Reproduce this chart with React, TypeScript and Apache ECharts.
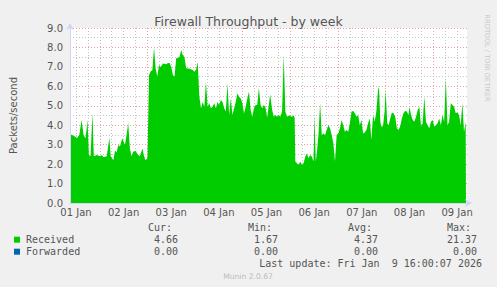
import React, { useEffect, useRef } from "react";
import * as echarts from "echarts";

// hours since 01 Jan 00:00
const hours = [
  9.0, 11.67, 12.5, 13.67, 14.83, 15.83, 16.83, 17.83, 18.5, 19.33, 20.33, 21, 22.5, 24.17, 25, 25.83, 27.5, 28.83, 29.5,
  30.83, 31.67, 32.5, 33.33, 34.17, 35.33, 36.67, 37.5, 38.33, 39.17, 40, 40.83, 42, 43.33, 44.17, 45.5, 46.17, 47, 48,
  48.83, 49.5, 50.5, 51.33, 52.17, 53, 53.83, 54.67, 55.83, 57.5, 58.33, 59.17, 60, 60.83, 61.67, 62.5, 64.17, 65, 65.83,
  66.67, 67.5, 69.17, 70.83, 71.67, 72.5, 73.33, 74.17, 75, 75.83, 76.67, 77.5, 78.33, 79.17, 80, 80.83, 81.67, 82.5,
  83.33, 84.17, 85, 85.83, 86.67, 87.5, 88.33, 89.17, 90, 90.83, 91.67, 92.5, 93.33, 94.17, 95, 95.83, 96.67, 97.5, 98.33,
  99.17, 100, 100.83, 101.67, 102.5, 103.33, 104.17, 105, 105.83, 106.67, 107.5, 108.33, 109.17, 109.83, 110.83, 111.67,
  112.5, 113.33, 114.17, 115, 115.83, 116.67, 117.5, 118.33, 119.17, 120.83, 121.67, 122.17, 122.5, 123.33, 124.17, 125,
  125.83, 126.67, 127.5, 128.33, 129.17, 130, 130.83, 131.67, 132.17, 132.83, 133.33, 134.17, 135, 135.83, 136.67, 137.5,
  138.33, 139.17, 140, 140.83, 141.67, 142.5, 143.33, 144.17, 145, 145.83, 146.67, 147.5, 148.33, 149.17, 150, 150.83,
  151.67, 152.5, 153.33, 154.17, 155, 155.83, 156.67, 157.5, 158.33, 159.17, 160, 160.83, 161.67, 162.5, 163.33, 164.17,
  164.67, 165.33, 165.83, 166.67, 167.5, 168, 168.83, 169.5, 170.33, 171.17, 172, 172.83, 173.67, 174.5, 175.33, 176.17,
  177, 177.83, 178.67, 179.5, 180, 180.83, 181.67, 182.5, 183.33, 184.17, 185, 185.83, 186.67, 187.5, 188.33, 189.17, 190,
  190.83, 191.67, 192.5, 193.33, 194.17, 195, 195.83, 196.67, 197.5, 198.33, 199.17, 200, 200.83, 201.67, 202.5, 203.33,
  204.17, 205, 205.83, 206.67, 207.5, 208.33, 208.5,
];

const received = [
  3.55, 3.41, 3.33, 3.5, 4.27, 3.5, 3.33, 4.27, 2.47, 2.4, 4.6, 2.4, 2.47, 2.4, 2.47, 2.35, 2.4, 3.36, 2.4,
  2.2, 2.7, 2.6, 2.98, 2.9, 3.33, 2.98, 3.5, 4.1, 2.8, 2.4, 2.64, 2.67, 2.47, 2.4, 2.8, 2.47, 2.2, 2.3,
  6.58, 6.75, 6.84, 8.0, 6.9, 6.5, 7.1, 7.0, 7.18, 7.13, 7.2, 7.2, 7.0, 6.58, 6.5, 7.44, 7.5, 7.87, 7.6,
  7.5, 6.93, 6.9, 6.84, 6.75, 6.84, 7.27, 5.47, 4.87, 5.2, 4.95, 6.24, 4.95, 5.13, 4.87, 4.95, 5.13, 4.87,
  5.2, 5.04, 5.3, 5.2, 4.87, 4.7, 6.15, 4.53, 5.38, 4.53, 4.87, 5.2, 5.64, 5.47, 5.38, 5.13, 4.6, 4.95, 5.38,
  5.73, 4.78, 4.44, 4.87, 5.04, 5.04, 5.93, 5.04, 4.87, 5.04, 4.9, 4.4, 5.04, 5.59, 4.78, 4.44,
  4.53, 4.44, 4.53, 4.44, 4.7, 7.6, 4.7, 4.44, 4.5, 4.44, 4.5, 4.4, 2.13, 2.04, 1.95, 2.13,
  1.95, 2.04, 2.38, 2.55, 2.3, 2.47, 2.38, 2.13, 4.53, 2.13, 2.55, 3.5, 5.13, 3.5, 3.58, 3.5,
  3.75, 4.0, 3.84, 3.5, 3.07, 2.13, 3.5, 3.58, 3.84, 4.27, 4.0, 3.67, 3.75, 3.67, 4.1, 4.7,
  4.73, 4.61, 4.44, 4.53, 4.0, 4.27, 3.58, 3.62, 3.75, 4.1, 4.35, 3.24, 4.53, 4.18, 4.7, 5.81,
  5.98, 4.18, 3.93, 3.93, 4.7, 5.81, 4.1, 4.0, 4.35, 4.66, 4.61, 4.44, 3.84, 3.75, 3.93, 4.35,
  4.61, 4.73, 4.7, 4.53, 4.95, 4.53, 4.27, 4.18, 4.44, 4.78, 4.95, 3.93, 4.1, 5.47, 4.18, 4.0, 3.84,
  4.18, 4.27, 3.93, 4.0, 4.1, 4.35, 4.0, 4.53, 4.18, 6.41, 4.0, 4.18, 5.13, 5.04, 4.95, 4.61,
  4.66, 4.53, 4.0, 5.13, 3.67, 4.18, 4.18,
];

const forwarded = hours.map(() => 0);

const dayLabels = ["01 Jan", "02 Jan", "03 Jan", "04 Jan", "05 Jan", "06 Jan", "07 Jan", "08 Jan", "09 Jan"];
const yTickLabels = ["0.0", "1.0", "2.0", "3.0", "4.0", "5.0", "6.0", "7.0", "8.0", "9.0"];

const seriesNames = ["Received", "Forwarded"];
const seriesColors = ["#00CC00", "#0066B3"];
const curVals = ["4.66", "0.00"];
const minVals = ["1.67", "0.00"];
const avgVals = ["4.37", "0.00"];
const maxVals = ["21.37", "0.00"];
const statHeaders = ["Cur:", "Min:", "Avg:", "Max:"];

const titleText = "Firewall Throughput - by week";
const yName = "Packets/second";
const lastUpdate = "Last update: Fri Jan  9 16:00:07 2026";
const footer = "Munin 2.0.67";
const watermark = "RRDTOOL / TOBI OETIKER";

const X_MIN = 9;
const X_MAX = 209;
const Y_MAX = 9;

const FONT = "DejaVu Sans";
const MONO = "DejaVu Sans Mono";
const TXT = "#555555";
const MGRID = "#E9A0A0";
const GRID = "#C4C4C4";
const AXIS = "#CFD6F8";

export default function App() {
  const ref = useRef<HTMLDivElement>(null);

  useEffect(() => {
    if (!ref.current) return;
    const chart = echarts.init(ref.current, null, { renderer: "svg" });

    // grid lines via markLines (through the axes' scales)
    const gridLines: any[] = [];
    for (let h = 12; h < X_MAX; h += 6) {
      const major = h % 24 === 0;
      gridLines.push({ xAxis: h, lineStyle: { color: major ? MGRID : GRID, type: [1, 2], width: 1 } });
    }
    for (let v = 0.5; v <= Y_MAX + 1e-9; v += 0.5) {
      const major = Math.abs(v % 1) < 1e-9;
      gridLines.push({ yAxis: v, lineStyle: { color: major ? MGRID : GRID, type: [1, 2], width: 1 } });
    }

    const colEnds = [178, 278, 378, 477];
    const cols = [curVals, minVals, avgVals, maxVals];
    const rowY = [239.7, 251.7];
    const graphics: any[] = [];
    statHeaders.forEach((h, i) => {
      graphics.push({
        type: "text",
        x: colEnds[i] - 6,
        y: 227.5,
        style: { text: h, font: `10px "${MONO}"`, fill: TXT, align: "right", verticalAlign: "middle" },
      });
    });
    seriesNames.forEach((n, r) => {
      graphics.push({
        type: "rect",
        shape: { x: 14, y: rowY[r] - 3, width: 6, height: 6 },
        style: { fill: seriesColors[r] },
      });
      graphics.push({
        type: "text",
        x: 26,
        y: rowY[r],
        style: { text: n, font: `10px "${MONO}"`, fill: TXT, align: "left", verticalAlign: "middle" },
      });
      cols.forEach((c, i) => {
        graphics.push({
          type: "text",
          x: colEnds[i],
          y: rowY[r],
          style: { text: c[r], font: `10px "${MONO}"`, fill: TXT, align: "right", verticalAlign: "middle" },
        });
      });
    });
    graphics.push({
      type: "text",
      x: 482,
      y: 263.3,
      style: { text: lastUpdate, font: `10px "${MONO}"`, fill: TXT, align: "right", verticalAlign: "middle" },
    });
    graphics.push({
      type: "text",
      x: 248,
      y: 276,
      style: { text: footer, font: `7.6px "${FONT}"`, fill: "#BBBBBB", align: "center", verticalAlign: "middle" },
    });
    graphics.push({
      type: "text",
      x: 487,
      y: 58,
      rotation: -Math.PI / 2,
      style: { text: watermark, font: `6.8px "${FONT}"`, fill: "#C8C8C8", align: "center", verticalAlign: "middle" },
    });

    chart.setOption({
      animation: false,
      backgroundColor: "#F0F0F0",
      title: {
        text: titleText,
        left: "center",
        top: 10,
        textStyle: { fontFamily: FONT, fontSize: 12.5, fontWeight: "normal", color: TXT },
      },
      grid: { left: 67, top: 28, width: 400, height: 175, backgroundColor: "#FFFFFF", show: true, borderWidth: 0 },
      xAxis: {
        type: "value",
        min: X_MIN,
        max: X_MAX,
        interval: 3,
        axisLine: {
          show: true,
          onZero: false,
          lineStyle: { color: AXIS, width: 1 },
          symbol: ["none", "arrow"],
          symbolSize: [6, 7],
          symbolOffset: [0, 5],
        },
        axisTick: { show: false },
        axisLabel: {
          margin: 4,
          fontFamily: FONT,
          fontSize: 10,
          color: TXT,
          showMinLabel: true,
          showMaxLabel: false,
          formatter: (v: number) => {
            const r = v - 12;
            if (r >= 0 && Math.abs(r % 24) < 1e-6) return dayLabels[Math.round(r / 24)] || "";
            return "";
          },
        },
        splitLine: { show: false },
        z: 10,
      },
      yAxis: {
        type: "value",
        min: 0,
        max: Y_MAX,
        interval: 1,
        name: yName,
        nameLocation: "middle",
        nameGap: 52,
        nameTextStyle: { fontFamily: FONT, fontSize: 10, color: TXT },
        axisLine: {
          show: true,
          lineStyle: { color: AXIS, width: 1 },
          symbol: ["none", "arrow"],
          symbolSize: [6, 7],
          symbolOffset: [0, 5],
        },
        axisTick: { show: false },
        axisLabel: {
          margin: 7,
          fontFamily: FONT,
          fontSize: 10,
          color: TXT,
          formatter: (v: number) => yTickLabels[Math.round(v)] ?? "",
        },
        splitLine: { show: false },
        z: 10,
      },
      series: [
        {
          name: "grid",
          type: "line",
          data: [],
          silent: true,
          z: 1,
          markLine: {
            silent: true,
            z: 1,
            symbol: ["none", "none"],
            label: { show: false },
            animation: false,
            data: gridLines,
          },
        },
        {
          name: seriesNames[0],
          type: "line",
          data: hours.map((h, i) => [h, received[i]]),
          showSymbol: false,
          lineStyle: { width: 0 },
          areaStyle: { color: seriesColors[0], opacity: 1 },
          itemStyle: { color: seriesColors[0] },
          z: 4,
        },
        {
          name: seriesNames[1],
          type: "line",
          data: hours.map((h, i) => [h, forwarded[i]]),
          showSymbol: false,
          lineStyle: { width: 0 },
          itemStyle: { color: seriesColors[1] },
          z: 4,
        },
      ],
      graphic: graphics,
    });

    return () => chart.dispose();
  }, []);

  return <div ref={ref} style={{ width: 497, height: 287, position: "absolute", left: 0, top: 0 }} />;
}
